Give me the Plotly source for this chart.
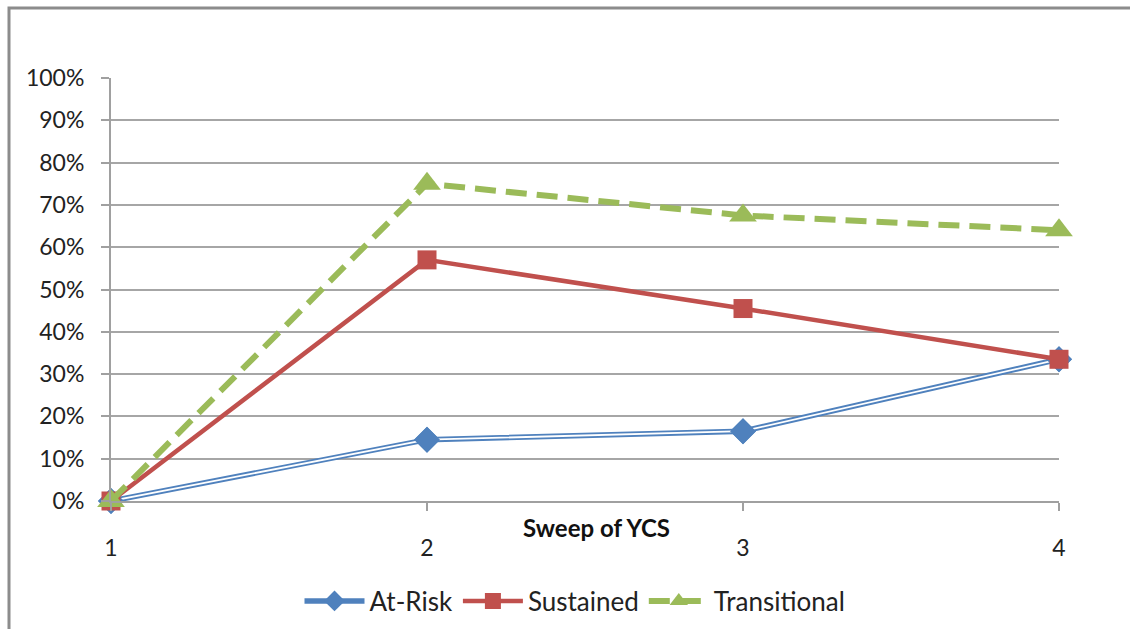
import plotly.graph_objects as go

sweeps = [1, 2, 3, 4]
at_risk = [0.0, 0.145, 0.165, 0.335]
sustained = [0.0, 0.57, 0.455, 0.335]
transitional = [0.0, 0.75, 0.675, 0.64]
y_ticks = [0, 0.1, 0.2, 0.3, 0.4, 0.5, 0.6, 0.7, 0.8, 0.9, 1.0]

FONT = "Lato"
L, R, T, B = 111, 71, 78, 128
W, H = 1130, 629
pw, ph = W - L - R, H - T - B

def px_x(x):
    return (x - L) / pw

def px_y(y):
    return (H - B - y) / ph

fig = go.Figure()

# At-Risk: double line (blue outer, white inner)
fig.add_trace(go.Scatter(
    x=sweeps, y=at_risk, mode="lines+markers", name="At-Risk",
    legendgroup="ar",
    line=dict(color="#4f81bd", width=5.5),
    marker=dict(symbol="diamond", size=20, color="#4f81bd"),
    cliponaxis=False,
))
fig.add_trace(go.Scatter(
    x=sweeps, y=at_risk, mode="lines", name="At-Risk", showlegend=False,
    legendgroup="ar", hoverinfo="skip",
    line=dict(color="white", width=1.8),
    cliponaxis=False,
))
fig.add_trace(go.Scatter(
    x=sweeps, y=at_risk, mode="markers", showlegend=False,
    legendgroup="ar", hoverinfo="skip",
    marker=dict(symbol="diamond", size=20, color="#4f81bd"),
    cliponaxis=False,
))
fig.add_trace(go.Scatter(
    x=sweeps, y=sustained, mode="lines+markers", name="Sustained",
    line=dict(color="#c0504d", width=4.5),
    marker=dict(symbol="square", size=19, color="#c0504d"),
    cliponaxis=False,
))
fig.add_trace(go.Scatter(
    x=sweeps, y=transitional, mode="lines+markers", name="Transitional",
    line=dict(color="#9bbb59", width=6, dash="21px,10px"),
    marker=dict(symbol="triangle-up", size=24, color="#9bbb59"),
    cliponaxis=False,
))

fig.update_layout(
    width=W, height=H,
    margin=dict(l=L, r=R, t=T, b=B, autoexpand=False),
    paper_bgcolor="white", plot_bgcolor="white",
    font=dict(family=FONT, size=23, color="#222222"),
    showlegend=True,
    legend=dict(orientation="h", x=px_x(575), xanchor="center",
                y=px_y(601), yanchor="middle",
                font=dict(family=FONT, size=26, color="#222222"),
                itemwidth=60, tracegroupgap=0),
    xaxis=dict(range=[1, 4], tickvals=sweeps, ticktext=[str(s) for s in sweeps],
               showgrid=False, zeroline=False, showline=True,
               linecolor="#a0a0a0", linewidth=2,
               ticks="outside", ticklen=8, tickcolor="#a0a0a0", tickwidth=2,
               ticklabelstandoff=17,
               tickfont=dict(family=FONT, size=23, color="#222222")),
    yaxis=dict(range=[0, 1], tickvals=y_ticks, tickformat=".0%",
               showgrid=True, gridcolor="#a6a6a6", gridwidth=2,
               zeroline=False, showline=True,
               linecolor="#a0a0a0", linewidth=2,
               ticks="outside", ticklen=8, tickcolor="#a0a0a0", tickwidth=2,
               ticklabelstandoff=12,
               tickfont=dict(family=FONT, size=23, color="#222222")),
    annotations=[dict(text="<b>Sweep of YCS</b>", x=px_x(596), y=px_y(527),
                      xref="paper", yref="paper", showarrow=False,
                      xanchor="center", yanchor="middle",
                      font=dict(family=FONT, size=24, color="#111111"))],
    shapes=[dict(type="rect", xref="paper", yref="paper",
                 x0=px_x(9), x1=px_x(1140), y0=px_y(640), y1=px_y(8),
                 line=dict(color="#8c8c8c", width=3), layer="below")],
)

fig.write_html("out.html",
               config={"displayModeBar": False},
               post_script="document.body.style.margin='0';document.body.style.overflow='hidden';")
